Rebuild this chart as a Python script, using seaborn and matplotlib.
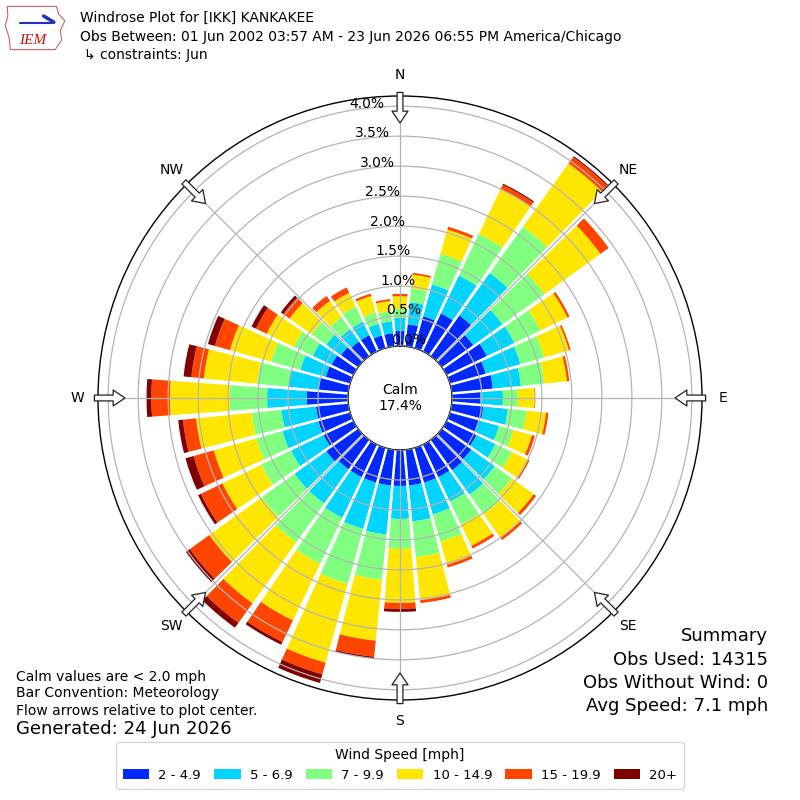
import numpy as np
import matplotlib
matplotlib.use("Agg")
import matplotlib.pyplot as plt
import seaborn as sns
from matplotlib.patches import Patch, Polygon

# ---------------- data (percent of observations) ----------------
directions = [0, 10, 20, 30, 40, 50, 60, 70, 80, 90, 100, 110, 120, 130, 140, 150, 160, 170,
              180, 190, 200, 210, 220, 230, 240, 250, 260, 270, 280, 290, 300, 310, 320, 330, 340, 350]
speed_bins = ["2 - 4.9", "5 - 6.9", "7 - 9.9", "10 - 14.9", "15 - 19.9", "20+"]
spd_2_5 = [0.25, 0.37, 0.55, 0.70, 0.83, 0.64, 0.74, 0.62, 0.69, 0.47, 0.53, 0.50, 0.55, 0.60, 0.62, 0.60, 0.60, 0.60,
           0.60, 0.60, 0.60, 0.60, 0.60, 0.65, 0.55, 0.55, 0.54, 0.69, 0.50, 0.42, 0.40, 0.35, 0.30, 0.30, 0.22, 0.22]
spd_5_7 = [0.22, 0.37, 0.55, 0.70, 0.87, 0.60, 0.51, 0.60, 0.47, 0.38, 0.41, 0.35, 0.35, 0.48, 0.50, 0.45, 0.55, 0.60,
           0.55, 0.82, 0.80, 0.75, 0.70, 0.65, 0.60, 0.62, 0.58, 0.66, 0.50, 0.44, 0.35, 0.30, 0.25, 0.25, 0.20, 0.20]
spd_7_10 = [0.15, 0.23, 0.53, 0.77, 0.95, 0.86, 0.48, 0.41, 0.39, 0.25, 0.31, 0.25, 0.30, 0.35, 0.40, 0.42, 0.47, 0.60,
            0.50, 0.76, 0.95, 0.85, 0.80, 0.67, 0.55, 0.45, 0.50, 0.62, 0.53, 0.51, 0.35, 0.30, 0.25, 0.28, 0.20, 0.17]
spd_10_15 = [0.21, 0.23, 0.42, 0.83, 1.30, 1.15, 0.50, 0.43, 0.38, 0.28, 0.33, 0.32, 0.30, 0.45, 0.48, 0.40, 0.40, 0.72,
             0.90, 1.02, 1.37, 1.05, 1.25, 1.08, 0.72, 0.74, 0.93, 1.00, 0.89, 0.71, 0.50, 0.45, 0.33, 0.25, 0.28, 0.17]
spd_15_20 = [0.04, 0.03, 0.05, 0.08, 0.13, 0.17, 0.04, 0.03, 0.04, 0.01, 0.04, 0.05, 0.03, 0.05, 0.05, 0.05, 0.05, 0.05,
             0.10, 0.27, 0.20, 0.40, 0.40, 0.40, 0.40, 0.35, 0.22, 0.31, 0.21, 0.26, 0.20, 0.13, 0.10, 0.10, 0.04, 0.03]
spd_20p = [0.00, 0.00, 0.00, 0.02, 0.02, 0.00, 0.00, 0.00, 0.00, 0.00, 0.00, 0.00, 0.00, 0.00, 0.00, 0.00, 0.00, 0.00,
           0.05, 0.03, 0.15, 0.05, 0.10, 0.08, 0.05, 0.14, 0.08, 0.08, 0.13, 0.12, 0.08, 0.05, 0.00, 0.00, 0.00, 0.00]
series = [spd_2_5, spd_5_7, spd_7_10, spd_10_15, spd_15_20, spd_20p]
calm_pct = 17.4
rticks = [0.0, 0.5, 1.0, 1.5, 2.0, 2.5, 3.0, 3.5, 4.0]
compass = ["N", "NE", "E", "SE", "S", "SW", "W", "NW"]
compass_deg = [0, 45, 90, 135, 180, 225, 270, 315]

# ---------------- style ----------------
sns.set_style("white")
plt.rcParams["font.family"] = ["DejaVu Sans"]
for k in ("text.color", "xtick.color", "ytick.color", "axes.labelcolor"):
    plt.rcParams[k] = "black"
colors = sns.color_palette(["#0028ff", "#00d4ff", "#80ff80", "#ffe600", "#ff4500", "#800000"])

fig = plt.figure(figsize=(8, 8), dpi=100)
ax = fig.add_axes([0.1225, 0.125, 0.755, 0.755], projection="polar")
ax.set_theta_zero_location("N")
ax.set_theta_direction(-1)
ax.set_ylim(0, 4.17)
ax.set_rorigin(-0.867)

theta = np.deg2rad(directions)
step = np.deg2rad(10)
bottom = np.zeros(len(directions))
for vals, col in zip(series, colors):
    vals = np.asarray(vals)
    ax.bar(theta, vals, width=step * 0.86, bottom=bottom, color=col,
           edgecolor="none", linewidth=0, align="center", zorder=1)
    bottom = bottom + vals

# white separators between sectors
for t in theta + step / 2:
    ax.plot([t, t], [0, 4.17], color="white", lw=1.8, zorder=1.6, solid_capstyle="butt")

ax.set_xticks(np.deg2rad(compass_deg))
ax.set_xticklabels(compass, fontsize=10, color="black")
ax.tick_params(axis="x", pad=4.5)
ax.set_yticks(rticks)
ax.set_yticklabels([f"{v:.1f}%" for v in rticks], fontsize=10, color="black")
ax.set_rlabel_position(350)
ax.grid(True, color="#b4b4b4", lw=0.9)
ax.set_axisbelow(False)
for sp in ax.spines.values():
    sp.set_color("black")
    sp.set_linewidth(1.0)

# flow arrows
for d in compass_deg:
    r = np.deg2rad(d)
    ax.annotate("", xy=(r, 3.72), xytext=(r, 4.23),
                arrowprops=dict(arrowstyle="simple,head_length=0.85,head_width=1.15,tail_width=0.42",
                                fc="white", ec="#222222", lw=0.9, shrinkA=0, shrinkB=0),
                annotation_clip=False, zorder=6)

ax.text(0.5, 0.5, f"Calm\n{calm_pct:.1f}%", transform=ax.transAxes, ha="center", va="center", fontsize=10)

# ---------------- header ----------------
def fy(y):
    return 1 - y / 800.0

fig.text(80 / 800, fy(18), "Windrose Plot for [IKK] KANKAKEE", fontsize=10, va="center")
fig.text(80 / 800, fy(37), "Obs Between: 01 Jun 2002 03:57 AM - 23 Jun 2026 06:55 PM America/Chicago",
         fontsize=10, va="center")
fig.text(84 / 800, fy(55), "\u21b3 constraints: Jun", fontsize=10, va="center")

# logo
lax = fig.add_axes([0.005, 0.935, 0.08, 0.06])
lax.set_xlim(0, 1)
lax.set_ylim(0, 1)
lax.axis("off")
lax.add_patch(Polygon([[0.05, 0.95], [0.82, 0.95], [0.85, 0.8], [0.95, 0.65], [0.88, 0.45], [0.9, 0.25],
                       [0.8, 0.05], [0.1, 0.05], [0.08, 0.3], [0.02, 0.55], [0.06, 0.75]],
                      closed=True, fill=False, ec="#d06060", lw=0.8))
lax.plot([0.25, 0.75], [0.6, 0.6], color="#2030c0", lw=1.5)
lax.plot([0.62, 0.78], [0.75, 0.62], color="#2030c0", lw=2.5)
lax.text(0.45, 0.25, "IEM", color="#d01010", fontsize=11, style="italic", family="Liberation Serif",
         ha="center", va="center")

# ---------------- footer texts ----------------
fig.text(16 / 800, fy(677), "Calm values are < 2.0 mph", fontsize=10, va="center")
fig.text(16 / 800, fy(693), "Bar Convention: Meteorology", fontsize=10, va="center")
fig.text(16 / 800, fy(711), "Flow arrows relative to plot center.", fontsize=10, va="center")
fig.text(16 / 800, fy(729), "Generated: 24 Jun 2026", fontsize=13, va="center")

fig.text(768 / 800, fy(636), "Summary", fontsize=13, va="center", ha="right")
fig.text(768 / 800, fy(660), "Obs Used: 14315", fontsize=13, va="center", ha="right")
fig.text(768 / 800, fy(683), "Obs Without Wind: 0", fontsize=13, va="center", ha="right")
fig.text(768 / 800, fy(706), "Avg Speed: 7.1 mph", fontsize=13, va="center", ha="right")

handles = [Patch(facecolor=c, edgecolor="none", label=l) for c, l in zip(colors, speed_bins)]
leg = fig.legend(handles=handles, loc="lower center", bbox_to_anchor=(0.5, 0.006), ncol=6,
                 title="Wind Speed [mph]", fontsize=9.5, title_fontsize=10, frameon=True,
                 handlelength=2.0, handleheight=0.8, columnspacing=1.0, handletextpad=0.7,
                 borderpad=0.5)
leg.get_frame().set_edgecolor("#cccccc")

fig.savefig("out.png", dpi=100)
